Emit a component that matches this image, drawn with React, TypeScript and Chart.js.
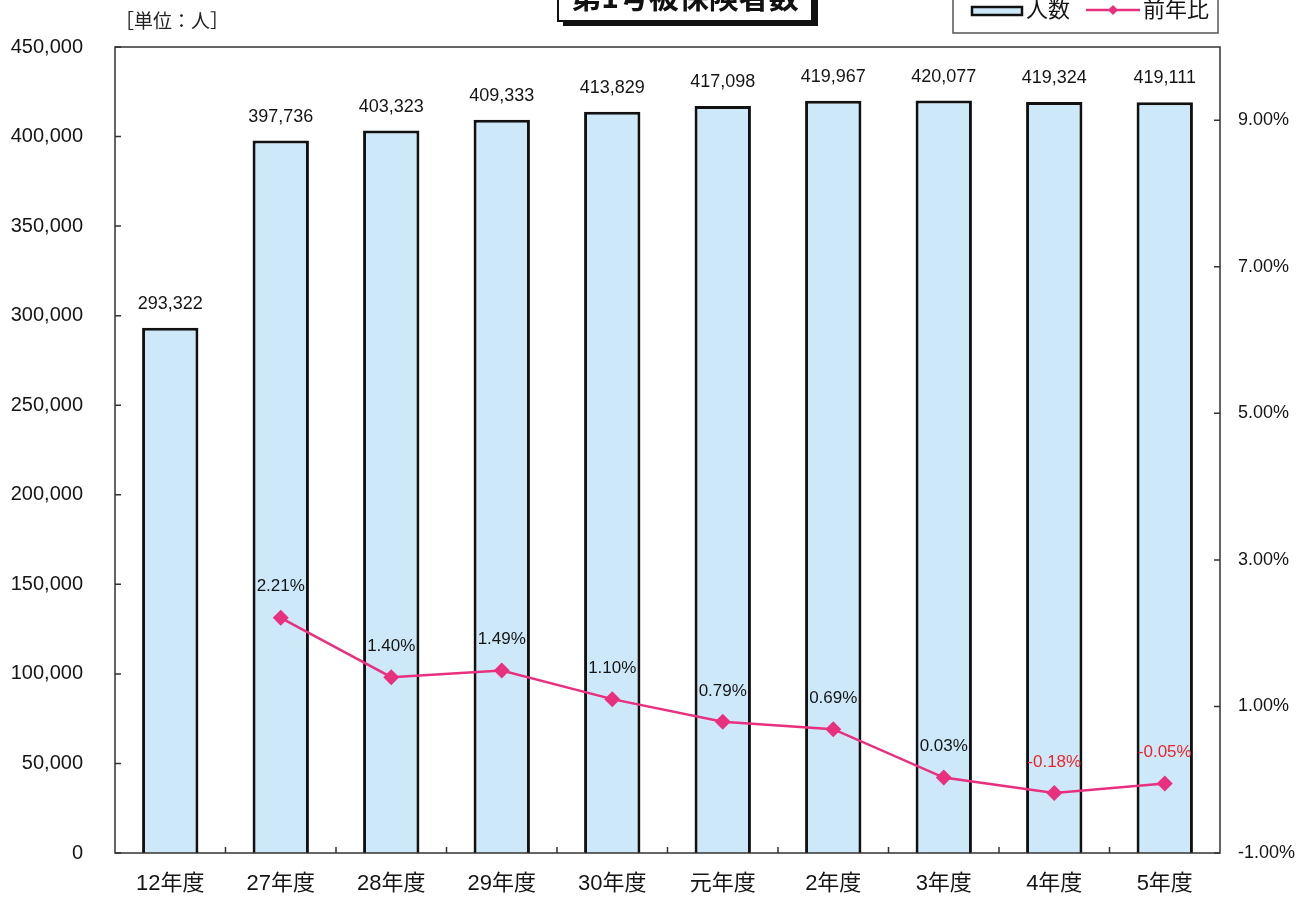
import React, { useEffect, useRef } from 'react';
import { Chart, registerables } from 'chart.js';

Chart.register(...registerables);

const FONT = "'Liberation Sans', 'Noto Sans CJK JP', sans-serif";
const JP = "'Noto Sans CJK JP', 'Liberation Sans', sans-serif";

const categories = ['12年度', '27年度', '28年度', '29年度', '30年度', '元年度', '2年度', '3年度', '4年度', '5年度'];
const counts = [293322, 397736, 403323, 409333, 413829, 417098, 419967, 420077, 419324, 419111];
const ratios: (number | null)[] = [null, 2.21, 1.4, 1.49, 1.1, 0.79, 0.69, 0.03, -0.18, -0.05];
const leftTicks = [0, 50000, 100000, 150000, 200000, 250000, 300000, 350000, 400000, 450000];
const rightTicks = [-1, 1, 3, 5, 7, 9];

const titleText = '第1号被保険者数';
const unitText = '［単位：人］';
const legendBar = '人数';
const legendLine = '前年比';

const BAR_FILL = '#cde8f8';
const LINE_COLOR = '#e8307f';
const TEXT = '#151515';
const NEG = '#e8262b';

export default function App() {
  const ref = useRef<HTMLCanvasElement>(null);

  useEffect(() => {
    const canvas = ref.current!;
    const overlay = {
      id: 'overlay',
      afterDatasetsDraw(chart: any) {
        const ctx = chart.ctx;
        ctx.save();
        // bar labels
        const barMeta = chart.getDatasetMeta(1);
        ctx.font = `18px ${FONT}`;
        ctx.fillStyle = TEXT;
        ctx.textAlign = 'center';
        ctx.textBaseline = 'middle';
        barMeta.data.forEach((el: any, i: number) => {
          ctx.fillText(counts[i].toLocaleString('en-US'), el.x, el.y - 24);
        });
        // line labels
        const lineMeta = chart.getDatasetMeta(0);
        ctx.font = `17px ${FONT}`;
        lineMeta.data.forEach((el: any, i: number) => {
          const v = ratios[i];
          if (v === null || v === undefined) return;
          ctx.fillStyle = v < 0 ? NEG : TEXT;
          ctx.fillText(v.toFixed(2) + '%', el.x, el.y - 31);
        });
        ctx.restore();
      },
      afterDraw(chart: any) {
        const ctx = chart.ctx;
        const a = chart.chartArea;
        const ys = chart.scales.y;
        const y1 = chart.scales.y1;
        const xs = chart.scales.x;
        ctx.save();
        // plot frame
        ctx.strokeStyle = '#333';
        ctx.lineWidth = 1.5;
        ctx.strokeRect(a.left, a.top, a.right - a.left, a.bottom - a.top);
        // inward tick marks
        ctx.beginPath();
        leftTicks.forEach((v) => {
          const y = ys.getPixelForValue(v);
          ctx.moveTo(a.left, y);
          ctx.lineTo(a.left + 6, y);
        });
        rightTicks.forEach((v) => {
          const y = y1.getPixelForValue(v);
          ctx.moveTo(a.right, y);
          ctx.lineTo(a.right - 6, y);
        });
        for (let k = 1; k < categories.length; k++) {
          const x = (xs.getPixelForValue(k - 1) + xs.getPixelForValue(k)) / 2;
          ctx.moveTo(x, a.bottom);
          ctx.lineTo(x, a.bottom - 6);
        }
        ctx.stroke();

        // unit label
        ctx.fillStyle = '#222';
        ctx.font = `19px ${JP}`;
        ctx.textAlign = 'left';
        ctx.textBaseline = 'middle';
        ctx.fillText(unitText, 115, 21);

        // title box
        ctx.fillStyle = '#111';
        ctx.fillRect(563, -30, 255, 56);
        ctx.fillStyle = '#fff';
        ctx.fillRect(558, -35, 254, 56);
        ctx.strokeStyle = '#111';
        ctx.lineWidth = 2;
        ctx.strokeRect(558, -35, 254, 56);
        ctx.fillStyle = '#111';
        ctx.font = `bold 30px ${JP}`;
        ctx.textAlign = 'center';
        ctx.fillText(titleText, 685, -3);

        // legend
        ctx.fillStyle = '#fff';
        ctx.fillRect(953, -10, 265, 43);
        ctx.strokeStyle = '#555';
        ctx.lineWidth = 1.5;
        ctx.strokeRect(953, -10, 265, 43);
        ctx.fillStyle = BAR_FILL;
        ctx.fillRect(972, 7, 50, 8);
        ctx.strokeStyle = '#111';
        ctx.lineWidth = 2.5;
        ctx.strokeRect(972, 7, 50, 8);
        ctx.fillStyle = TEXT;
        ctx.font = `22px ${JP}`;
        ctx.textAlign = 'left';
        ctx.fillText(legendBar, 1026, 9);
        ctx.strokeStyle = LINE_COLOR;
        ctx.lineWidth = 2.5;
        ctx.beginPath();
        ctx.moveTo(1086, 10);
        ctx.lineTo(1140, 10);
        ctx.stroke();
        ctx.fillStyle = LINE_COLOR;
        ctx.beginPath();
        ctx.moveTo(1113, 5);
        ctx.lineTo(1118, 10);
        ctx.lineTo(1113, 15);
        ctx.lineTo(1108, 10);
        ctx.closePath();
        ctx.fill();
        ctx.fillStyle = TEXT;
        ctx.fillText(legendLine, 1143, 9);
        ctx.restore();
      },
    };

    const chart = new Chart(canvas, {
      type: 'bar',
      data: {
        labels: categories,
        datasets: [
          {
            type: 'line',
            label: legendLine,
            data: ratios as any,
            yAxisID: 'y1',
            borderColor: LINE_COLOR,
            backgroundColor: LINE_COLOR,
            borderWidth: 2.5,
            pointStyle: 'rectRot',
            pointRadius: 8,
            pointBorderWidth: 0,
            pointBackgroundColor: LINE_COLOR,
            tension: 0,
            spanGaps: false,
            order: 0,
          } as any,
          {
            type: 'bar',
            label: legendBar,
            data: counts,
            yAxisID: 'y',
            backgroundColor: BAR_FILL,
            borderColor: '#111',
            borderWidth: 3,
            barPercentage: 0.51,
            categoryPercentage: 1,
            order: 1,
          } as any,
        ],
      },
      options: {
        responsive: false,
        animation: false,
        devicePixelRatio: 1,
        layout: { padding: { top: 47, left: 0, right: 0, bottom: 0 } },
        plugins: { legend: { display: false }, tooltip: { enabled: false }, title: { display: false } },
        scales: {
          x: {
            grid: { display: false, drawTicks: false },
            border: { display: false },
            ticks: { font: { size: 22, family: FONT }, color: TEXT, padding: 18, maxRotation: 0 },
            afterFit(s: any) {
              s.height = 46;
            },
          },
          y: {
            position: 'left',
            min: 0,
            max: 450000,
            afterBuildTicks(s: any) {
              s.ticks = leftTicks.map((v) => ({ value: v }));
            },
            ticks: {
              font: { size: 20, family: FONT },
              color: TEXT,
              padding: 32,
              callback: (v: any) => Number(v).toLocaleString('en-US'),
            },
            grid: { display: false, drawTicks: false },
            border: { display: false },
            afterFit(s: any) {
              s.width = 115;
            },
          },
          y1: {
            position: 'right',
            min: -1,
            max: 10,
            afterBuildTicks(s: any) {
              s.ticks = rightTicks.map((v) => ({ value: v }));
            },
            ticks: {
              font: { size: 18, family: FONT },
              color: TEXT,
              padding: 18,
              callback: (v: any) => Number(v).toFixed(2) + '%',
            },
            grid: { display: false, drawTicks: false },
            border: { display: false },
            afterFit(s: any) {
              s.width = 95;
            },
          },
        },
      } as any,
      plugins: [overlay],
    });
    return () => chart.destroy();
  }, []);

  return (
    <div style={{ position: 'fixed', left: 0, top: 0, width: 1315, height: 899, background: '#fff' }}>
      <canvas ref={ref} width={1315} height={899} style={{ display: 'block', width: 1315, height: 899 }} />
    </div>
  );
}
